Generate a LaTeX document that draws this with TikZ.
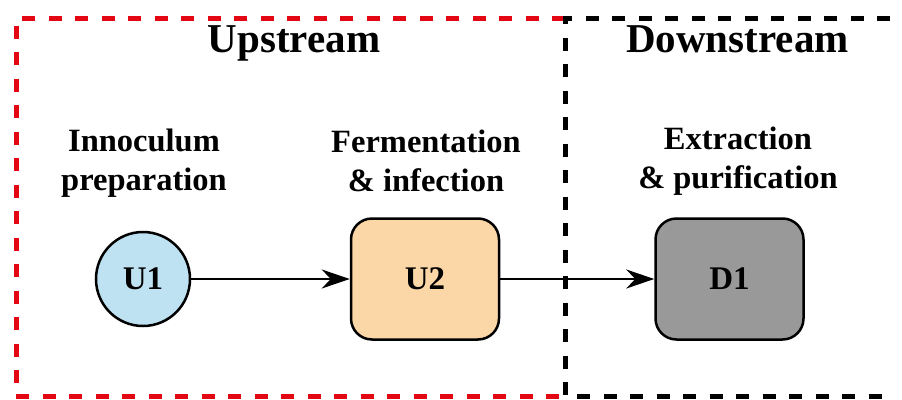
\documentclass[tikz,border=0pt]{standalone}
\usepackage{fontspec}
\setmainfont{Liberation Serif}
\usetikzlibrary{arrows.meta}
\definecolor{zonered}{HTML}{E30613}
\definecolor{seedblue}{HTML}{BFE2F2}
\definecolor{fermpeach}{HTML}{FBD6A6}
\definecolor{dspgray}{HTML}{999999}
\tikzset{
  zone/.style={line width=5pt, dash pattern=on 13pt off 13.5pt},
  zonetitle/.style={font=\fontsize{41}{44}\selectfont\bfseries, inner sep=0pt, anchor=base},
  steplabel/.style={font=\fontsize{32.5}{39}\selectfont\bfseries, align=center, inner sep=0pt},
  unitbox/.style={draw, line width=2.5pt, rounded corners=21pt, minimum width=148pt,
    minimum height=121pt, font=\fontsize{33}{36}\selectfont\bfseries},
  unitcirc/.style={draw, circle, line width=2.5pt, minimum size=94pt, inner sep=0pt,
    font=\fontsize{33}{36}\selectfont\bfseries},
  flow/.style={line width=2.5pt, -{Stealth[length=28pt,width=19pt,inset=9pt]}}
}
\begin{document}
\begin{tikzpicture}[x=1pt,y=-1pt]
\useasboundingbox (0,0) rectangle (902,399);
% process zones
\draw[zone, zonered] (565,18) -- (16,18) -- (16,396.5) -- (565,396.5);
\draw[zone, black] (890,18) -- (565,18) -- (565,396.5) -- (890,396.5);
\node[zonetitle] (up) at (294,52) {Upstream};
\node[zonetitle] (down) at (737.5,52) {Downstream};
% step labels
\node[steplabel] (lu1) at (144,163) {Innoculum\\preparation};
\node[steplabel] (lu2) at (426,161) {Fermentation\\\&\ infection};
\node[steplabel] (ld1) at (738,161) {Extraction\\\&\ purification};
% units
\node[unitcirc, fill=seedblue] (u1) at (143,279) {U1};
\node[unitbox, fill=fermpeach] (u2) at (425,279) {U2};
\node[unitbox, fill=dspgray] (d1) at (729.5,279) {D1};
\draw[flow] (u1) -- (u2);
\draw[flow] (u2) -- (d1);
\end{tikzpicture}
\end{document}
